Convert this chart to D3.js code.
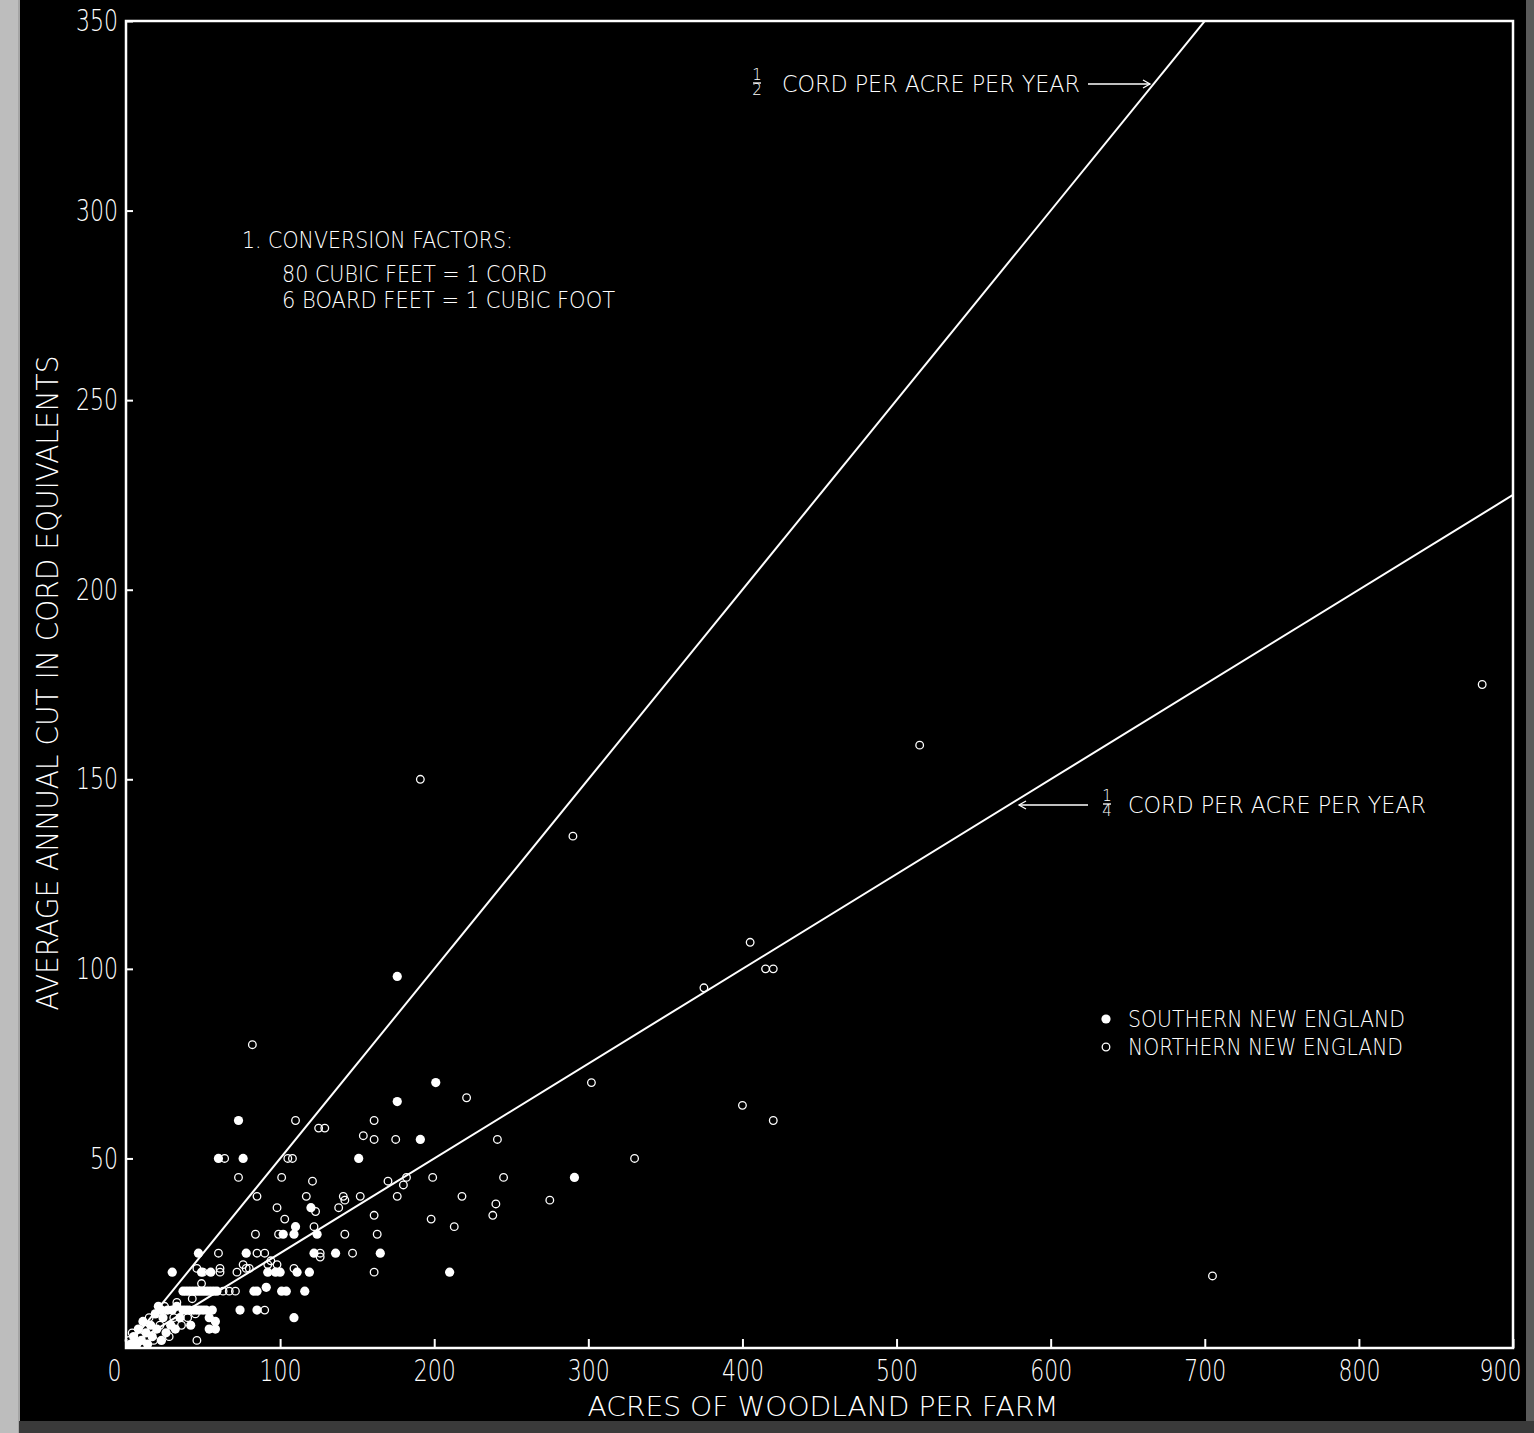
<!DOCTYPE html>
<html lang="en">
<head>
<meta charset="UTF-8">
<title>Average annual cut vs acres of woodland</title>
<script src="https://d3js.org/d3.v7.min.js"></script>
<style>
  body { margin: 0; background: #000; }
  svg { display: block; }
  text { fill: #fff; font-family: "DejaVu Sans", "Liberation Sans", sans-serif; font-weight: 200; }
</style>
</head>
<body>
<svg width="1534" height="1433"></svg>
<script>
const xTicks = [0, 100, 200, 300, 400, 500, 600, 700, 800, 900];
const yTicks = [50, 100, 150, 200, 250, 300, 350];

// [acres of woodland, cords cut per year]
const southern = [
  [3,1],[5,3],[7,1],[8,5],[10,2],[11,7],[13,4],[14,1],[16,6],[17,3],[19,9],[20,5],[21,11],[23,2],
  [23,10],[24,8],[26,4],[27,10],[29,6],[30,10],[32,5],[33,11],[35,8],[37,10],[39,10],[41,10],
  [42,6],[44,10],[46,10],[48,10],[50,10],[52,10],[54,8],[56,10],[58,7],[54,5],[58,5],[30,20],
  [37,15],[39,15],[41,15],[43,15],[45,15],[47,15],[49,15],[51,15],[53,15],[55,15],[57,15],[59,15],
  [47,25],[55,20],[49,20],
  [60,50],[73,60],[74,10],[76,50],[78,25],[83,15],[85,15],[85,10],[91,16],[92,20],[97,20],[100,20],
  [101,15],[102,30],[104,15],[109,8],[109,30],[110,32],[111,20],[116,15],[119,20],[120,37],[122,25],
  [124,30],[136,25],[151,50],[165,25],[176,65],[176,98],[191,55],[201,70],[210,20],[291,45]
];
const northern = [
  [2,2],[4,4],[6,1],[9,3],[12,5],[15,8],[18,2],[22,6],[25,11],[28,3],[31,8],[33,12],[36,6],[40,8],
  [45,9],[46,2],[46,21],[49,17],[50,20],[43,13],[60,25],[61,21],[61,20],[63,15],[67,15],[71,15],
  [72,20],[76,22],[78,21],[80,21],[90,10],
  [64,50],[73,45],[82,80],[84,30],[85,40],[85,25],[90,25],[92,22],[94,23],[98,22],[99,30],[98,37],
  [101,45],[103,34],[105,50],[108,50],[109,21],[110,60],[117,40],[121,44],[122,32],[123,36],[125,58],
  [126,25],[126,24],[129,58],[138,37],[141,40],[142,39],[142,30],[147,25],[152,40],[154,56],[161,60],
  [161,55],[161,35],[161,20],[163,30],[170,44],[175,55],[176,40],[180,43],[182,45],[198,34],[199,45],
  [213,32],[218,40],[221,66],[238,35],[240,38],[241,55],[245,45],[275,39],
  [191,150],[290,135],[302,70],[330,50],[375,95],[400,64],[405,107],[415,100],[420,100],[420,60],
  [515,159],[705,19],[880,175]
];
const rates = [0.5, 0.25];
const rateLabels = ["CORD PER ACRE PER YEAR", "CORD PER ACRE PER YEAR"];
const rateDen = ["2", "4"];
const notes = ["1. CONVERSION FACTORS:", "80 CUBIC FEET = 1 CORD", "6 BOARD FEET = 1 CUBIC FOOT"];
const legendNames = ["SOUTHERN NEW ENGLAND", "NORTHERN NEW ENGLAND"];

const svg = d3.select("svg"),
      margin = {top: 21, right: 21, bottom: 85, left: 126},
      width = +svg.attr("width") - margin.left - margin.right,
      height = +svg.attr("height") - margin.top - margin.bottom;

// scanned page edges
svg.append("rect").attr("x", 0).attr("y", 0).attr("width", 18).attr("height", 1433).attr("fill", "#bdbdbd");
svg.append("line").attr("x1", 19).attr("x2", 19).attr("y1", 0).attr("y2", 1433).attr("stroke", "#ddd").attr("stroke-width", 1.5);
svg.append("rect").attr("x", 1526).attr("y", 0).attr("width", 8).attr("height", 1433).attr("fill", "#5a5a5a");
svg.append("rect").attr("x", 19).attr("y", 1421).attr("width", 1515).attr("height", 12).attr("fill", "#3a3a3a");

const g = svg.append("g").attr("transform", `translate(${margin.left},${margin.top})`);

const x = d3.scaleLinear().domain([0, 900]).range([0, width]);
const y = d3.scaleLinear().domain([0, 350]).range([height, 0]);

g.append("clipPath").attr("id", "plot").append("rect").attr("width", width).attr("height", height);

// axes, ticks point inward
const xAxis = g.append("g")
    .attr("transform", `translate(0,${height})`)
    .call(d3.axisBottom(x).tickValues(xTicks).tickSizeInner(-9).tickSizeOuter(0).tickPadding(12).tickFormat(d3.format("d")));
const yAxis = g.append("g")
    .call(d3.axisLeft(y).tickValues(yTicks).tickSizeInner(-7).tickSizeOuter(0).tickPadding(8).tickFormat(d3.format("d")));
[xAxis, yAxis].forEach(a => {
  a.select(".domain").remove();
  a.selectAll("line").attr("stroke", "#fff").attr("stroke-width", 2);
  a.selectAll("text").attr("fill", "#fff").style("font-size", "30px")
      .attr("textLength", d => String(d).length * 14).attr("lengthAdjust", "spacingAndGlyphs");
});
xAxis.selectAll(".tick text").filter(d => d === 0).attr("dx", -12);
xAxis.selectAll(".tick text").filter(d => d === 900).attr("dx", -13);

// frame
g.append("rect").attr("width", width).attr("height", height)
    .attr("fill", "none").attr("stroke", "#fff").attr("stroke-width", 2.5);

// rate lines
g.append("g").attr("clip-path", "url(#plot)")
  .selectAll("line").data(rates).join("line")
    .attr("x1", x(0)).attr("y1", y(0))
    .attr("x2", x(900)).attr("y2", d => y(900 * d))
    .attr("stroke", "#fff").attr("stroke-width", 2);

// points
g.append("g").selectAll("circle").data(southern).join("circle")
    .attr("cx", d => x(d[0])).attr("cy", d => y(d[1])).attr("r", 4.6)
    .attr("fill", "#fff");
g.append("g").selectAll("circle").data(northern).join("circle")
    .attr("cx", d => x(d[0])).attr("cy", d => y(d[1])).attr("r", 3.8)
    .attr("fill", "none").attr("stroke", "#fff").attr("stroke-width", 1.3);

// rate annotations (page coords)
const ann = svg.append("g");
const annPos = [
  {fx: 757, text: 782, y: 92, a1: 1088, a2: 1150},
  {fx: 1107, text: 1128, y: 813, a1: 1088, a2: 1019}
];
annPos.forEach((p, i) => {
  ann.append("text").attr("x", p.fx).attr("y", p.y - 12).attr("text-anchor", "middle")
      .style("font-size", "15px").text("1");
  ann.append("line").attr("x1", p.fx - 4).attr("x2", p.fx + 4).attr("y1", p.y - 9).attr("y2", p.y - 9)
      .attr("stroke", "#fff").attr("stroke-width", 1.3);
  ann.append("text").attr("x", p.fx).attr("y", p.y + 3).attr("text-anchor", "middle")
      .style("font-size", "15px").text(rateDen[i]);
  ann.append("text").attr("x", p.text).attr("y", p.y)
      .attr("textLength", 298).attr("lengthAdjust", "spacingAndGlyphs")
      .style("font-size", "23px").text(rateLabels[i]);
  const ay = p.y - 8, dir = Math.sign(p.a2 - p.a1);
  ann.append("line").attr("x1", p.a1).attr("x2", p.a2).attr("y1", ay).attr("y2", ay)
      .attr("stroke", "#fff").attr("stroke-width", 1.3);
  ann.append("path")
      .attr("d", `M${p.a2 - dir * 7},${ay - 4}L${p.a2},${ay}L${p.a2 - dir * 7},${ay + 4}`)
      .attr("fill", "none").attr("stroke", "#fff").attr("stroke-width", 1.3);
});

// conversion note
const noteX = [242, 282, 282], noteY = [248, 282, 308], noteW = [271, 265, 333];
svg.append("g").selectAll("text").data(notes).join("text")
    .attr("x", (d, i) => noteX[i]).attr("y", (d, i) => noteY[i])
    .attr("textLength", (d, i) => noteW[i]).attr("lengthAdjust", "spacingAndGlyphs")
    .style("font-size", "23px").text(d => d);

// legend
const leg = svg.append("g");
leg.append("circle").attr("cx", 1106).attr("cy", 1019).attr("r", 4.6).attr("fill", "#fff");
leg.append("circle").attr("cx", 1106).attr("cy", 1047).attr("r", 3.8)
    .attr("fill", "none").attr("stroke", "#fff").attr("stroke-width", 1.3);
leg.selectAll("text").data(legendNames).join("text")
    .attr("x", 1128).attr("y", (d, i) => 1027 + i * 28)
    .attr("textLength", (d, i) => i ? 275 : 277).attr("lengthAdjust", "spacingAndGlyphs")
    .style("font-size", "23px").text(d => d);

// axis titles
svg.append("text").attr("x", 823).attr("y", 1416).attr("text-anchor", "middle")
    .attr("textLength", 471).attr("lengthAdjust", "spacingAndGlyphs")
    .style("font-size", "26px").text("ACRES OF WOODLAND PER FARM");
svg.append("text").attr("transform", "translate(58,683) rotate(-90)").attr("text-anchor", "middle")
    .attr("textLength", 655).attr("lengthAdjust", "spacingAndGlyphs")
    .style("font-size", "30px").text("AVERAGE ANNUAL CUT IN CORD EQUIVALENTS");
</script>
</body>
</html>
